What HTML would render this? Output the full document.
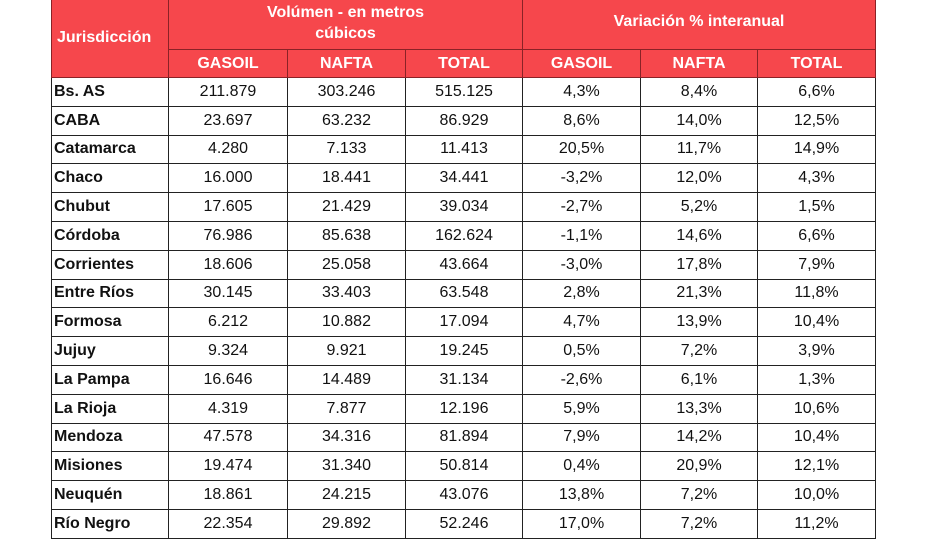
<!DOCTYPE html>
<html><head><meta charset="utf-8"><style>
html,body{margin:0;padding:0;background:#fff;width:946px;height:540px;overflow:hidden}
table{position:absolute;left:51px;top:-1px;border-collapse:collapse;table-layout:fixed;font-family:"Liberation Sans",sans-serif;font-size:16px;color:#111}
td,th{border:1.5px solid #222;padding:0;text-align:center;overflow:hidden;white-space:nowrap}
th{background:#f6474c;color:#fff;font-weight:bold;font-size:16px;border-color:#8a2226}
td{height:27.8px}
td:first-child{text-align:left;font-weight:bold;padding-left:2px}
</style></head><body>
<table>
<colgroup><col style="width:117px"><col style="width:119px"><col style="width:118px"><col style="width:117px"><col style="width:118px"><col style="width:117px"><col style="width:118px"></colgroup>
<tr style="height:50px"><th rowspan="2" style="text-align:left;padding-left:5px;vertical-align:top;padding-top:29px">Jurisdicción</th><th colspan="3" style="white-space:normal;line-height:21px;padding-bottom:4px">Volúmen - en metros<br>cúbicos</th><th colspan="3" style="vertical-align:top;padding-top:13px">Variación % interanual</th></tr>
<tr style="height:28px"><th>GASOIL</th><th>NAFTA</th><th>TOTAL</th><th>GASOIL</th><th>NAFTA</th><th>TOTAL</th></tr>
<tr><td>Bs. AS</td><td>211.879</td><td>303.246</td><td>515.125</td><td>4,3%</td><td>8,4%</td><td>6,6%</td></tr>
<tr><td>CABA</td><td>23.697</td><td>63.232</td><td>86.929</td><td>8,6%</td><td>14,0%</td><td>12,5%</td></tr>
<tr><td>Catamarca</td><td>4.280</td><td>7.133</td><td>11.413</td><td>20,5%</td><td>11,7%</td><td>14,9%</td></tr>
<tr><td>Chaco</td><td>16.000</td><td>18.441</td><td>34.441</td><td>-3,2%</td><td>12,0%</td><td>4,3%</td></tr>
<tr><td>Chubut</td><td>17.605</td><td>21.429</td><td>39.034</td><td>-2,7%</td><td>5,2%</td><td>1,5%</td></tr>
<tr><td>Córdoba</td><td>76.986</td><td>85.638</td><td>162.624</td><td>-1,1%</td><td>14,6%</td><td>6,6%</td></tr>
<tr><td>Corrientes</td><td>18.606</td><td>25.058</td><td>43.664</td><td>-3,0%</td><td>17,8%</td><td>7,9%</td></tr>
<tr><td>Entre Ríos</td><td>30.145</td><td>33.403</td><td>63.548</td><td>2,8%</td><td>21,3%</td><td>11,8%</td></tr>
<tr><td>Formosa</td><td>6.212</td><td>10.882</td><td>17.094</td><td>4,7%</td><td>13,9%</td><td>10,4%</td></tr>
<tr><td>Jujuy</td><td>9.324</td><td>9.921</td><td>19.245</td><td>0,5%</td><td>7,2%</td><td>3,9%</td></tr>
<tr><td>La Pampa</td><td>16.646</td><td>14.489</td><td>31.134</td><td>-2,6%</td><td>6,1%</td><td>1,3%</td></tr>
<tr><td>La Rioja</td><td>4.319</td><td>7.877</td><td>12.196</td><td>5,9%</td><td>13,3%</td><td>10,6%</td></tr>
<tr><td>Mendoza</td><td>47.578</td><td>34.316</td><td>81.894</td><td>7,9%</td><td>14,2%</td><td>10,4%</td></tr>
<tr><td>Misiones</td><td>19.474</td><td>31.340</td><td>50.814</td><td>0,4%</td><td>20,9%</td><td>12,1%</td></tr>
<tr><td>Neuquén</td><td>18.861</td><td>24.215</td><td>43.076</td><td>13,8%</td><td>7,2%</td><td>10,0%</td></tr>
<tr><td>Río Negro</td><td>22.354</td><td>29.892</td><td>52.246</td><td>17,0%</td><td>7,2%</td><td>11,2%</td></tr>
</table>
</body></html>
